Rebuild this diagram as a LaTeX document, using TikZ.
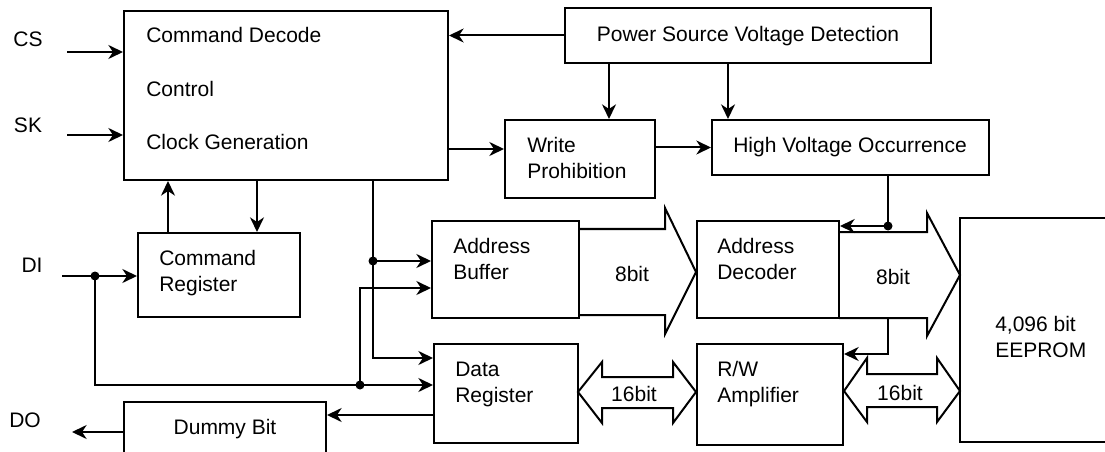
\documentclass[tikz,border=0pt]{standalone}
\usepackage{fontspec}
\setmainfont{Liberation Sans}
\usetikzlibrary{arrows.meta,fit}

\tikzset{
  blk/.style={draw, line width=1.5pt, inner sep=0pt},
  txt/.style={anchor=base west, inner sep=0pt, align=left, font=\fontsize{15.75}{19.5}\selectfont},
  ctxt/.style={anchor=base, inner sep=0pt, font=\fontsize{15.75}{19.5}\selectfont},
  sig/.style={line width=1.5pt, -{Stealth[length=11pt,width=10.5pt,inset=3.5pt]}},
  wire/.style={line width=1.5pt},
  bus/.style={draw, fill=white, line width=1.5pt, line join=miter},
  jdot/.style={circle, fill, inner sep=0pt, minimum size=6.75pt}
}

\begin{document}
\begin{tikzpicture}[x=0.75pt, y=-0.75pt]
\clip (0,0) rectangle (1105,452);

% Buses
\draw[bus] (579,229) -- (665,229) -- (665,208) -- (696,272) -- (665,334) -- (665,315) -- (579,315);
\draw[bus] (839,232) -- (927,232) -- (927,213) -- (960,275) -- (927,336) -- (927,318) -- (839,318);
\draw[bus] (578,392) -- (602,362) -- (602,377) -- (673,377) -- (673,362) -- (696,392)
  -- (673,423) -- (673,408) -- (602,408) -- (602,423) -- cycle;
\draw[bus] (844,391) -- (867,358) -- (867,374) -- (937,374) -- (937,358) -- (960,391)
  -- (937,422) -- (937,407) -- (867,407) -- (867,422) -- cycle;
\node[ctxt] (b8a) at (632,281) {8bit};
\node[ctxt] (b8b) at (893,284) {8bit};
\node[ctxt] (b16a) at (634,401) {16bit};
\node[ctxt] (b16b) at (900,400) {16bit};

% Blocks
\node[blk, fit={(124,11) (448,180)}] (ctrl) {};
\node[blk, fit={(565,8) (931,63)}] (psvd) {};
\node[blk, fit={(505,120) (655,198)}] (wp) {};
\node[blk, fit={(712,120) (989,175)}] (hvo) {};
\node[blk, fit={(138,233) (300,317)}] (cmdreg) {};
\node[blk, fit={(432,221) (579,318)}] (abuf) {};
\node[blk, fit={(697,221) (839,318)}] (adec) {};
\node[blk, fit={(434,344) (578,443)}] (dreg) {};
\node[blk, fit={(697,344) (843,445)}] (rwamp) {};
\node[blk, fit={(960,218) (1130,442)}] (eeprom) {};
\node[blk, fit={(124,402) (326,470)}] (dummy) {};

% Block texts (base = last line)
\node[txt] (tdec) at (146,43) {Command Decode};
\node[txt] (tctl) at (146,97) {Control};
\node[txt] (tclk) at (146,150) {Clock Generation};
\node[ctxt] (tpsvd) at (748,42) {Power Source Voltage Detection};
\node[txt] (twp) at (527,179) {Write\\Prohibition};
\node[ctxt] (thvo) at (850,153) {High Voltage Occurrence};
\node[txt] (tcr) at (159,291) {Command\\Register};
\node[txt] (tab) at (453,279) {Address\\Buffer};
\node[txt] (tad) at (717,279) {Address\\Decoder};
\node[txt] (tdr) at (455,402) {Data\\Register};
\node[txt] (trw) at (717,402) {R/W\\Amplifier};
\node[txt] (tee) at (995,357) {4,096 bit\\EEPROM};
\node[ctxt] (tdb) at (225,434) {Dummy Bit};

% Pins
\node[ctxt] (cs) at (28,47) {CS};
\node[ctxt] (sk) at (28,133) {SK};
\node[ctxt] (di) at (32,272) {DI};
\node[ctxt] (do) at (25,427) {DO};
\coordinate (csin) at (67,52);
\coordinate (skin) at (67,135);
\coordinate (diin) at (62,276);
\coordinate (doout) at (72,432);

% Junctions
\coordinate (jhv) at (888,226);
\coordinate (jrw) at (888,354);
\coordinate (jab) at (373,261);
\coordinate (jdr) at (373,358);
\coordinate (jdi) at (95,276);
\coordinate (jlow) at (95,385);
\coordinate (jdin) at (360,385);
\coordinate (jdup) at (360,288);

% Signals
\draw[sig] (csin) -- (csin -| ctrl.west);
\draw[sig] (skin) -- (skin -| ctrl.west);
\draw[sig] (psvd.west) -- (psvd.west -| ctrl.east);
\draw[sig] (psvd.south -| 609,0) -- (wp.north -| 609,0);
\draw[sig] (psvd.south -| 728,0) -- (hvo.north -| 728,0);
\draw[sig] (ctrl.east |- 0,149) -- (wp.west |- 0,149);
\draw[sig] (wp.east |- hvo.west) -- (hvo.west);
\draw[wire] (hvo.south -| jhv) -- (jhv);
\draw[sig] (jhv) -- (jhv -| adec.east);
\draw[sig] (adec.south -| jrw) -- (jrw) -- (jrw -| rwamp.east);
\draw[sig] (ctrl.south -| 257,0) -- (cmdreg.north -| 257,0);
\draw[sig] (cmdreg.north -| 168,0) -- (ctrl.south -| 168,0);
\draw[sig] (ctrl.south -| jab) -- (jdr) -- (jdr -| dreg.west);
\draw[sig] (jab) -- (jab -| abuf.west);
\draw[sig] (diin) -- (diin -| cmdreg.west);
\draw[sig] (jdi) -- (jlow) -- (jlow -| dreg.west);
\draw[sig] (jdin) -- (jdup) -- (jdup -| abuf.west);
\draw[sig] (dreg.west |- 0,415) -- (dummy.east |- 0,415);
\draw[sig] (dummy.west |- doout) -- (doout);

\node[jdot] (dhv) at (jhv) {};
\node[jdot] (dab) at (jab) {};
\node[jdot] (ddi) at (jdi) {};
\node[jdot] (ddin) at (jdin) {};
\end{tikzpicture}
\end{document}
